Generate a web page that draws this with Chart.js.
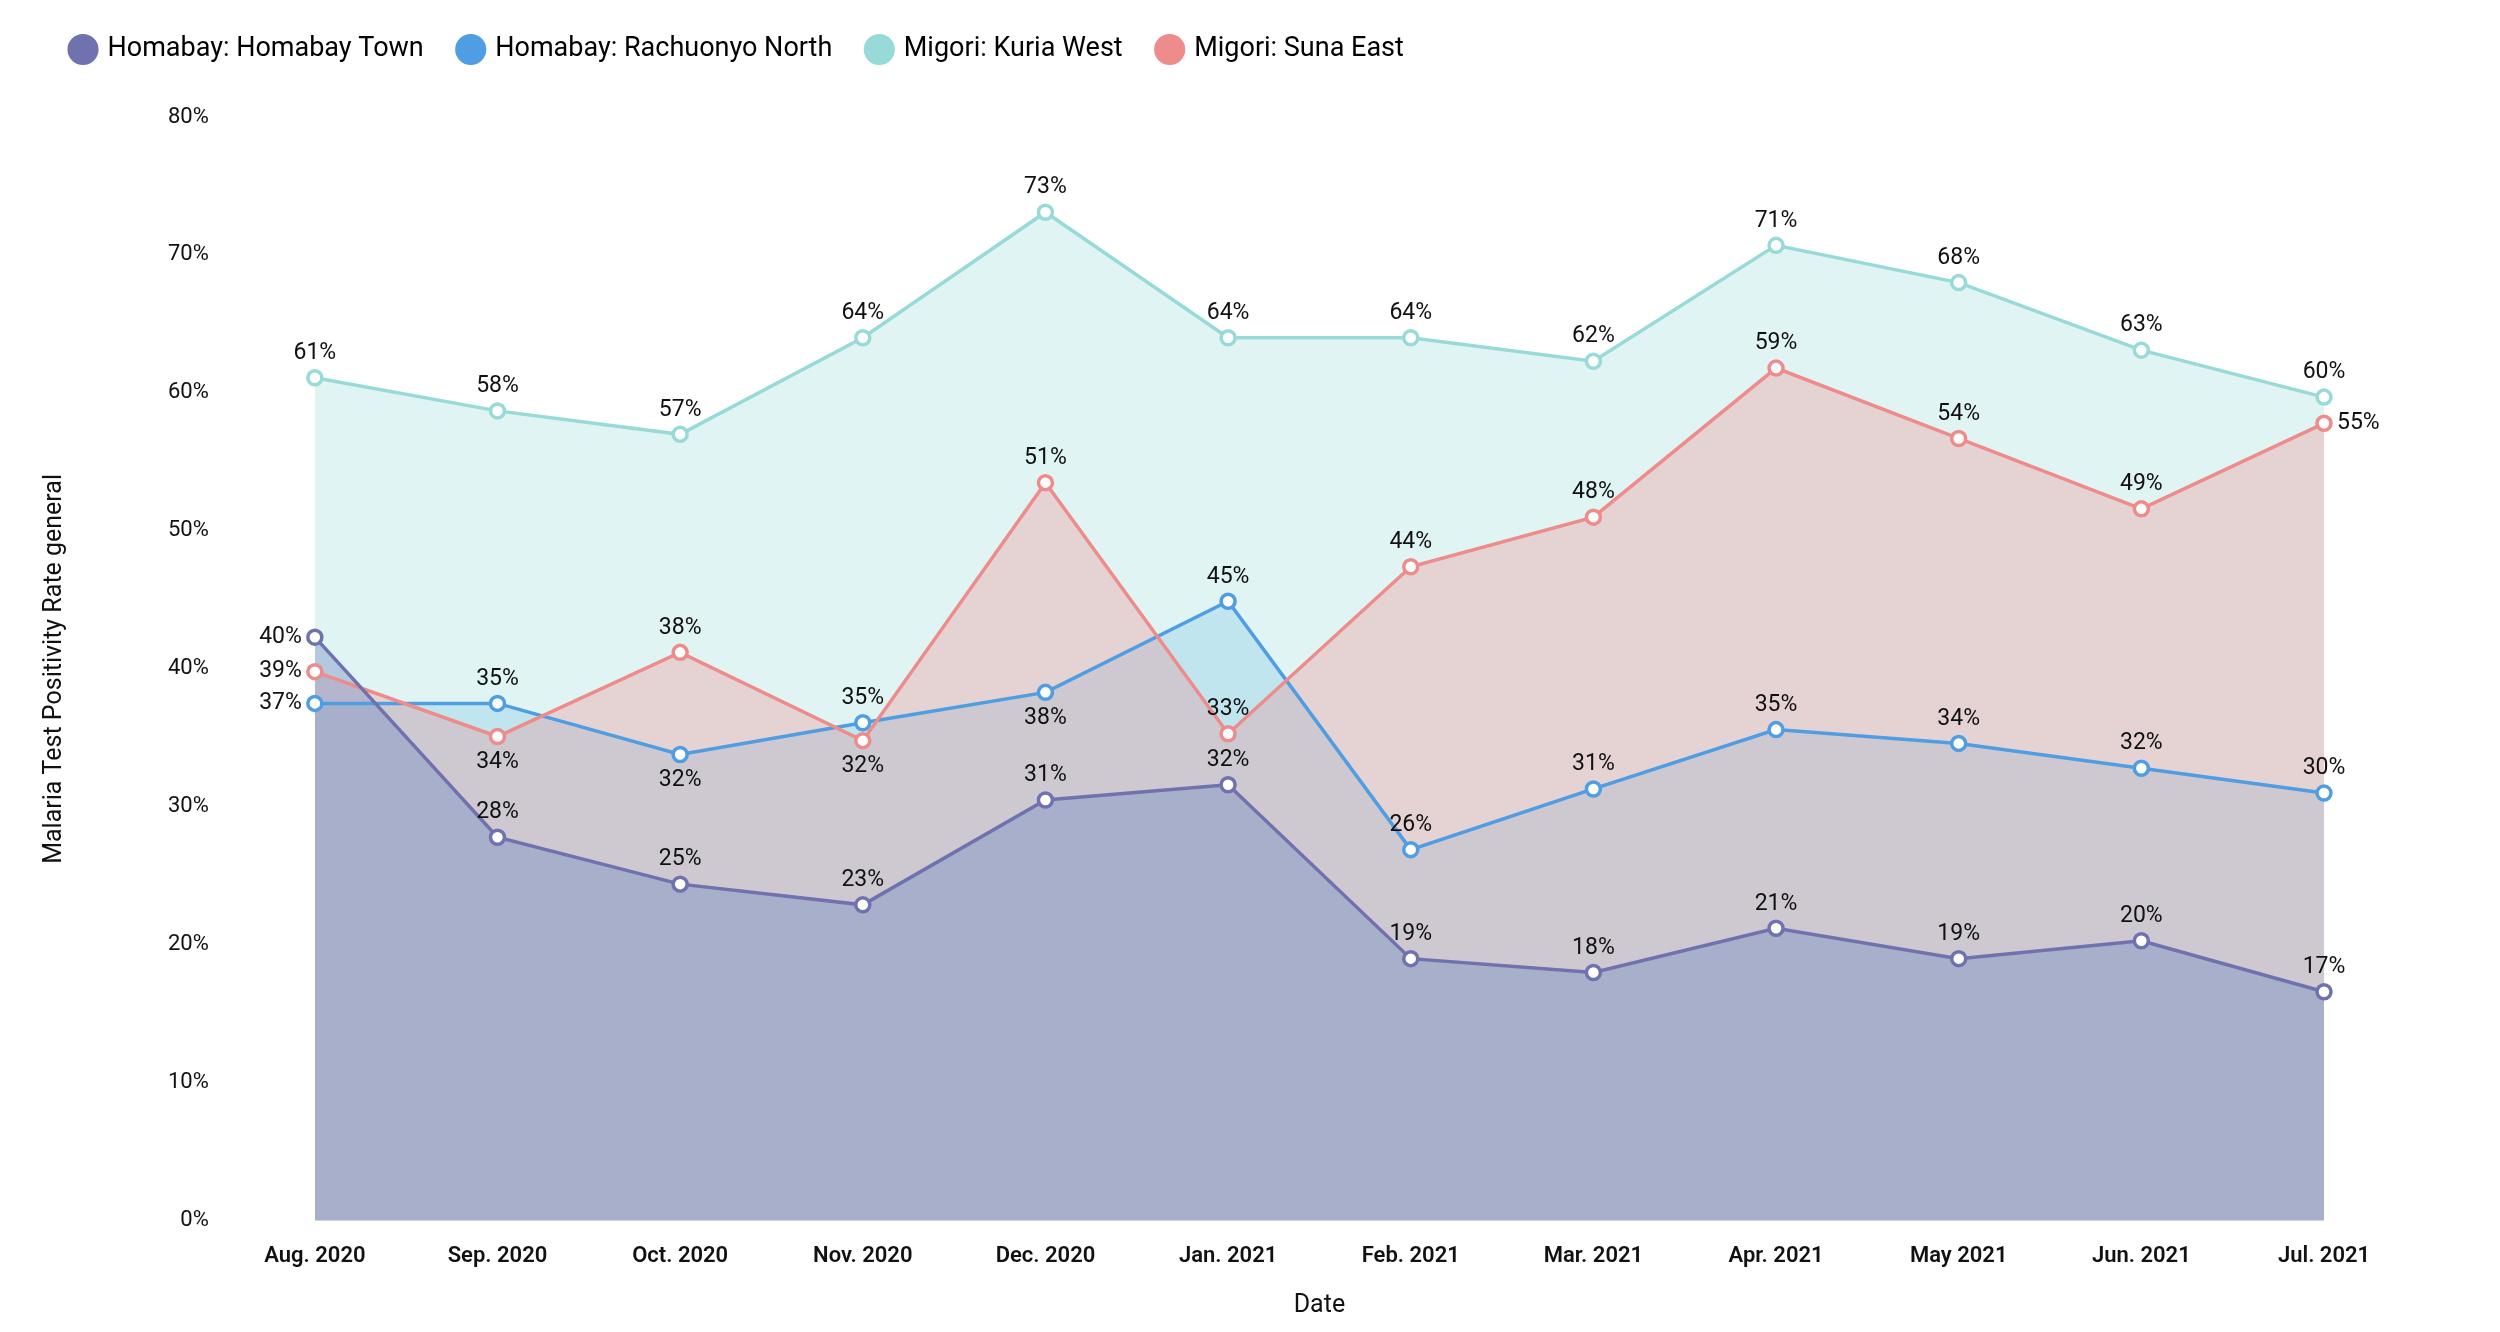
<!DOCTYPE html>
<html><head><meta charset="utf-8">
<script src="https://cdn.jsdelivr.net/npm/chart.js@4"></script>
<style>html,body{margin:0;background:#fff}#w{width:2500px;height:1332px}</style>
</head><body><div id="w"><canvas id="c"></canvas></div>
<script>
const categories=["Aug. 2020","Sep. 2020","Oct. 2020","Nov. 2020","Dec. 2020","Jan. 2021","Feb. 2021","Mar. 2021","Apr. 2021","May 2021","Jun. 2021","Jul. 2021"];
const seriesNames=["Homabay: Homabay Town","Homabay: Rachuonyo North","Migori: Kuria West","Migori: Suna East"];
const townValues=[42.3,27.8,24.4,22.9,30.5,31.6,19.0,18.0,21.2,19.0,20.3,16.6];
const rachuonyoValues=[37.5,37.5,33.8,36.1,38.3,44.9,26.9,31.3,35.6,34.6,32.8,31.0];
const kuriaValues=[61.1,58.7,57.0,64.0,73.1,64.0,64.0,62.3,70.7,68.0,63.1,59.7];
const sunaValues=[39.8,35.1,41.2,34.8,53.5,35.3,47.4,51.0,61.8,56.7,51.6,57.8];
const townLabels=[40,28,25,23,31,32,19,18,21,19,20,17];
const rachuonyoLabels=[37,35,32,35,38,45,26,31,35,34,32,30];
const kuriaLabels=[61,58,57,64,73,64,64,62,71,68,63,60];
const sunaLabels=[39,34,38,32,51,33,44,48,59,54,49,55];
const yTicks=[0,10,20,30,40,50,60,70,80];

const colors=["#7072B0","#4F9DE3","#98DAD8","#EE8B8B"];
const fills=["rgba(115,140,195,0.42)","rgba(117,191,226,0.3)","rgba(152,218,216,0.3)","rgba(238,134,136,0.3)"];
const vals=[townValues,rachuonyoValues,kuriaValues,sunaValues];
const labs=[townLabels,rachuonyoLabels,kuriaLabels,sunaLabels];
const pos=[
 ["l","t","t","t","t","t","t","t","t","t","t","t"],
 ["l","t","b","t","b","t","t","t","t","t","t","t"],
 ["t","t","t","t","t","t","t","t","t","t","t","t"],
 ["l","b","t","b","t","t","t","t","t","t","t","r"]];
const F="Roboto, 'Liberation Sans', sans-serif";
const labelPlugin={id:"lbl",afterDatasetsDraw(ch){
 const ctx=ch.ctx;ctx.save();ctx.font="23px "+F;ctx.fillStyle="#111";
 ch.data.datasets.forEach((d,i)=>{const m=ch.getDatasetMeta(i);
  m.data.forEach((p,j)=>{const t=labs[i][j]+"%";const q=pos[i][j];
   let x=p.x,y=p.y;
   if(q=="t"){ctx.textAlign="center";ctx.textBaseline="bottom";y-=13;}
   else if(q=="b"){ctx.textAlign="center";ctx.textBaseline="top";y+=14;}
   else if(q=="l"){ctx.textAlign="right";ctx.textBaseline="middle";x-=13;}
   else {ctx.textAlign="left";ctx.textBaseline="middle";x+=13;}
   ctx.fillText(t,x,y);});});ctx.restore();}};
const legendGap={id:"lgap",beforeInit(ch){const orig=ch.legend.fit;ch.legend.fit=function(){orig.bind(ch.legend)();this.height+=44;};}};
new Chart(document.getElementById("c"),{type:"line",
 data:{labels:categories,datasets:vals.map((v,i)=>({label:seriesNames[i],data:v,borderColor:colors[i],backgroundColor:fills[i],
  fill:"origin",borderWidth:3.5,pointRadius:7,pointBorderWidth:3.5,pointBackgroundColor:"#fff",pointBorderColor:colors[i],tension:0,order:[1,3,4,2][i]}))},
 options:{responsive:true,maintainAspectRatio:false,animation:false,
  layout:{padding:{left:36,right:176,top:0,bottom:8}},
  plugins:{filler:{drawTime:"beforeDatasetsDraw"},
   legend:{position:"top",align:"start",labels:{usePointStyle:true,pointStyle:"circle",boxWidth:22,boxHeight:22,padding:36,color:"#111",font:{size:27,family:F},
    generateLabels(ch){return ch.data.datasets.map((d,i)=>({text:d.label,fillStyle:colors[i],strokeStyle:colors[i],lineWidth:0,pointStyle:"circle",datasetIndex:i}));}}},
   tooltip:{enabled:false}},
  scales:{x:{offset:false,grid:{display:false},border:{display:false},ticks:{color:"#111",font:{size:22,weight:"600",family:F},padding:14},
    title:{display:true,text:"Date",color:"#111",font:{size:25,family:F},padding:{top:8,bottom:0}}},
   y:{min:0,max:80,grid:{display:false},border:{display:false},
    afterBuildTicks(s){s.ticks=yTicks.map(v=>({value:v}));},
    ticks:{color:"#111",font:{size:22,family:F},padding:98,callback:v=>v+"%"},
    title:{display:true,text:"Malaria Test Positivity Rate general",color:"#111",font:{size:25,family:F},padding:{bottom:0}}}}},
 plugins:[labelPlugin,legendGap]});
</script></body></html>
